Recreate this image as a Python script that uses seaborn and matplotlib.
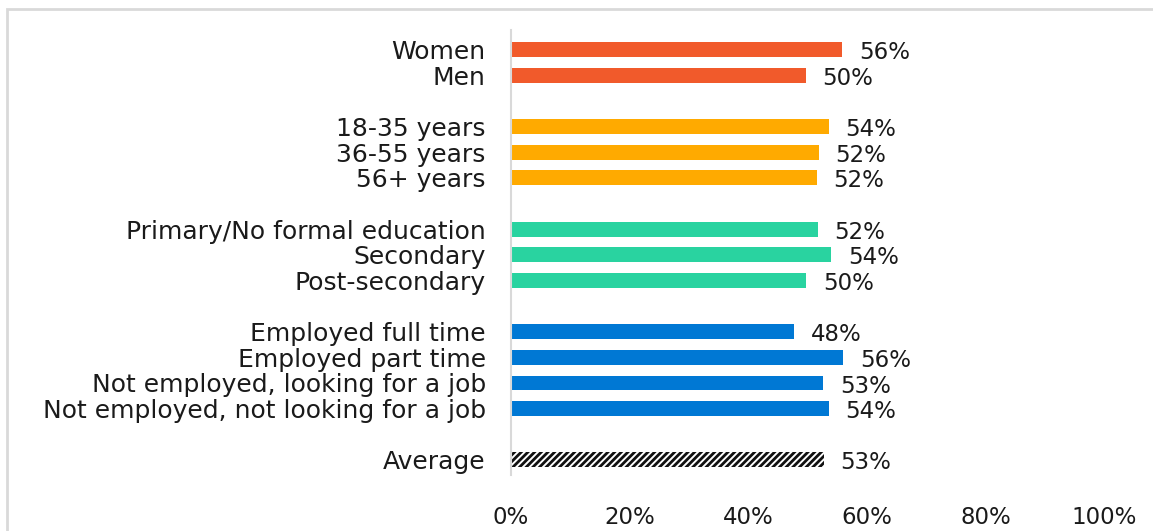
import pandas as pd
import matplotlib.pyplot as plt
import matplotlib.patches as mpatches
import seaborn as sns

# Chart data (share, %), with blank spacer rows between groups
labels = ["Women", "Men", " ",
          "18-35 years", "36-55 years", "56+ years", "  ",
          "Primary/No formal education", "Secondary", "Post-secondary", "   ",
          "Employed full time", "Employed part time",
          "Not employed, looking for a job", "Not employed, not looking for a job", "    ",
          "Average"]
values = [55.8, 49.7, None,
          53.6, 51.9, 51.5, None,
          51.7, 54.0, 49.8, None,
          47.7, 56.0, 52.6, 53.6, None,
          52.7]
groups = ["Gender", "Gender", "Gender",
          "Age", "Age", "Age", "Age",
          "Education", "Education", "Education", "Education",
          "Employment", "Employment", "Employment", "Employment", "Employment",
          "Average"]
group_colors = {"Gender": "#F15A2B", "Age": "#FFAA00", "Education": "#29D3A0",
                "Employment": "#0078D4", "Average": "white"}
xticks = [0, 20, 40, 60, 80, 100]

df = pd.DataFrame({"label": labels, "value": values, "group": groups})

sns.set_style("white")
plt.rcParams['font.family'] = ['DejaVu Sans']
plt.rcParams['hatch.linewidth'] = 2.0

fig = plt.figure(figsize=(11.53, 5.31), dpi=100)
ax = fig.add_axes([0.443, 0.105, 0.515, 0.839])

sns.barplot(data=df, x="value", y="label", hue="group", palette=group_colors,
            dodge=False, width=0.58, orient="h", legend=False, ax=ax,
            linewidth=0, saturation=1)

# hatch the average bar
for p in ax.patches:
    if p.get_facecolor()[:3] == (1.0, 1.0, 1.0) and p.get_width() > 0:
        p.set_hatch("/////")
        p.set_edgecolor("#111111")
        p.set_linewidth(0)

# value labels
for i, v in enumerate(values):
    if v is None:
        continue
    ax.text(v + 2.8, i + 0.12, f"{round(v)}%", va="center", ha="left",
            fontsize=16.5, color="#1a1a1a")

ax.set_xlim(0, 100)
ax.set_ylim(16.6, -0.78)
ax.set_xticks(xticks)
ax.set_xticklabels([f"{t}%" for t in xticks], fontsize=16.5, color="#1a1a1a")
ax.tick_params(axis="x", length=0, pad=22)
ax.tick_params(axis="y", length=0, pad=18, labelsize=18, labelcolor="#1a1a1a")
ax.set_xlabel("")
ax.set_ylabel("")
for s in ["top", "right", "bottom"]:
    ax.spines[s].set_visible(False)
ax.spines["left"].set_color("#D9D9D9")
ax.spines["left"].set_linewidth(1.5)

# light frame around chart area
fig.patches.append(mpatches.Rectangle((0.006, -0.02), 1.1, 1.003, transform=fig.transFigure,
                                      fill=False, edgecolor="#D9D9D9", linewidth=2))

fig.savefig("out.png", dpi=100)
